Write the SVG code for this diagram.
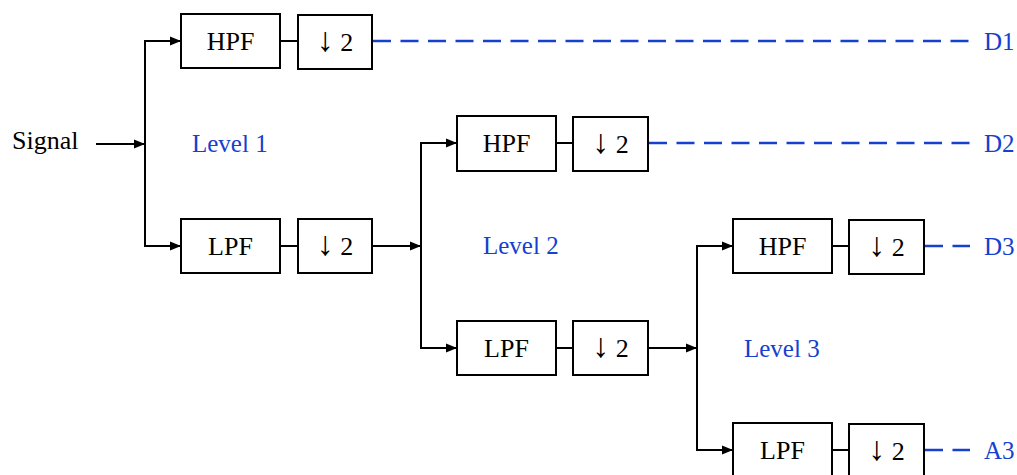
<svg xmlns="http://www.w3.org/2000/svg" width="1017" height="475" viewBox="0 0 1017 475">
<style>
.box{fill:#fff;stroke:#000;stroke-width:2}
.t{font-family:"Liberation Serif","Times New Roman",serif;font-size:26px;fill:#000}
.ar{font-family:"Liberation Serif","Times New Roman",serif;font-size:34px}
.b{font-family:"Liberation Serif","Times New Roman",serif;font-size:25px;fill:#1540d0}
.ln{stroke:#000;stroke-width:2;fill:none}
.dl{stroke:#1540d0;stroke-width:2.5;fill:none;stroke-dasharray:18 9.5}
</style>
<defs>
<marker id="ah" viewBox="0 0 11 10" refX="11" refY="5" markerWidth="11" markerHeight="10" markerUnits="userSpaceOnUse" orient="auto">
<path d="M0,0.5 L11,5 L0,9.5 Z" fill="#000"/>
</marker>
</defs>
<g id="connectors">
<line class="ln" x1="96" y1="144" x2="145" y2="144" marker-end="url(#ah)"/>
<polyline class="ln" points="181,41 145,41 145,246 181,246"/>
<line class="ln" x1="145" y1="41" x2="181" y2="41" marker-end="url(#ah)"/>
<line class="ln" x1="145" y1="246" x2="181" y2="246" marker-end="url(#ah)"/>
<line class="ln" x1="280" y1="41" x2="298" y2="41"/>
<line class="ln" x1="280" y1="246" x2="298" y2="246"/>
<line class="ln" x1="372" y1="246" x2="421" y2="246" marker-end="url(#ah)"/>
<line class="ln" x1="421" y1="143" x2="421" y2="348"/>
<line class="ln" x1="420" y1="143" x2="457" y2="143" marker-end="url(#ah)"/>
<line class="ln" x1="420" y1="348" x2="457" y2="348" marker-end="url(#ah)"/>
<line class="ln" x1="556" y1="143" x2="573" y2="143"/>
<line class="ln" x1="556" y1="348" x2="573" y2="348"/>
<line class="ln" x1="648" y1="348" x2="697" y2="348" marker-end="url(#ah)"/>
<line class="ln" x1="697" y1="246" x2="697" y2="450"/>
<line class="ln" x1="696" y1="246" x2="733" y2="246" marker-end="url(#ah)"/>
<line class="ln" x1="696" y1="450" x2="733" y2="450" marker-end="url(#ah)"/>
<line class="ln" x1="832" y1="246" x2="849" y2="246"/>
<line class="ln" x1="832" y1="450" x2="849" y2="450"/>
<line class="dl" x1="373" y1="41" x2="970" y2="41"/>
<line class="dl" x1="649" y1="143" x2="970" y2="143"/>
<line class="dl" x1="925" y1="246" x2="970" y2="246"/>
<line class="dl" x1="925" y1="450" x2="970" y2="450"/>
</g>
<g id="signal"><text class="t" x="12" y="149">Signal</text></g>
<g id="hpf1"><rect class="box" x="181" y="14" width="99" height="54"/><text class="t" x="230.5" y="50" text-anchor="middle">HPF</text></g>
<g id="ds1h"><rect class="box" x="298" y="15" width="74" height="54"/><text class="t" x="335" y="51" text-anchor="middle"><tspan class="ar">↓</tspan> 2</text></g>
<g id="lpf1"><rect class="box" x="181" y="219" width="99" height="54"/><text class="t" x="230.5" y="255" text-anchor="middle">LPF</text></g>
<g id="ds1l"><rect class="box" x="298" y="219" width="74" height="54"/><text class="t" x="335" y="255" text-anchor="middle"><tspan class="ar">↓</tspan> 2</text></g>
<g id="hpf2"><rect class="box" x="457" y="116" width="99" height="55"/><text class="t" x="506.5" y="152" text-anchor="middle">HPF</text></g>
<g id="ds2h"><rect class="box" x="573" y="117" width="75" height="54"/><text class="t" x="610.5" y="153" text-anchor="middle"><tspan class="ar">↓</tspan> 2</text></g>
<g id="lpf2"><rect class="box" x="457" y="321" width="99" height="54"/><text class="t" x="506.5" y="357" text-anchor="middle">LPF</text></g>
<g id="ds2l"><rect class="box" x="573" y="321" width="75" height="54"/><text class="t" x="610.5" y="357" text-anchor="middle"><tspan class="ar">↓</tspan> 2</text></g>
<g id="hpf3"><rect class="box" x="733" y="219" width="99" height="54"/><text class="t" x="782.5" y="255" text-anchor="middle">HPF</text></g>
<g id="ds3h"><rect class="box" x="849" y="220" width="75" height="54"/><text class="t" x="886.5" y="256" text-anchor="middle"><tspan class="ar">↓</tspan> 2</text></g>
<g id="lpf3"><rect class="box" x="733" y="423" width="99" height="60"/><text class="t" x="782.5" y="459" text-anchor="middle">LPF</text></g>
<g id="ds3l"><rect class="box" x="849" y="424" width="75" height="60"/><text class="t" x="886.5" y="460" text-anchor="middle"><tspan class="ar">↓</tspan> 2</text></g>
<g id="labels">
<text class="b" x="192" y="152">Level 1</text>
<text class="b" x="483" y="254">Level 2</text>
<text class="b" x="744" y="357">Level 3</text>
<text class="b" x="984" y="50">D1</text>
<text class="b" x="984" y="152">D2</text>
<text class="b" x="984" y="255">D3</text>
<text class="b" x="984" y="459">A3</text>
</g>
</svg>
